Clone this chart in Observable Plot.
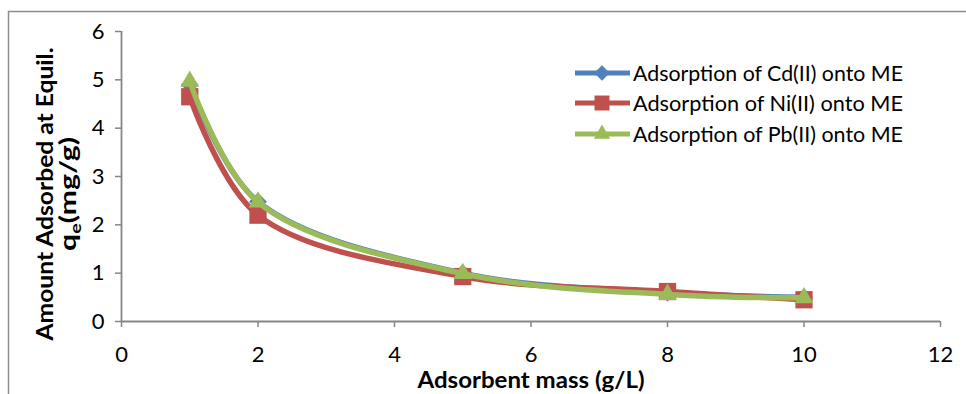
<!DOCTYPE html>
<html><head><meta charset="utf-8">
<script src="https://cdn.jsdelivr.net/npm/d3@7"></script>
<script src="https://cdn.jsdelivr.net/npm/@observablehq/plot@0.6"></script>
<style>
body{margin:0;background:#fff;}
#wrap{position:relative;width:966px;height:394px;overflow:hidden;background:#fff;}
#overlay{position:absolute;left:0;top:0;pointer-events:none;}
#wrap svg g[aria-label="x-axis tick"], #wrap svg g[aria-label="y-axis tick"]{stroke:#868686;stroke-width:1.5px;}
</style></head><body><div id="wrap"></div>
<script>
const masses = [1, 2, 5, 8, 10];
const cdValues = [4.9, 2.48, 1.0, 0.6, 0.5];
const niValues = [4.65, 2.2, 0.93, 0.62, 0.45];
const pbValues = [4.97, 2.47, 0.99, 0.56, 0.49];
const seriesNames = ["Adsorption of Cd(II) onto ME", "Adsorption of Ni(II) onto ME", "Adsorption of Pb(II) onto ME"];
const seriesColors = ["#4F81BD", "#C0504D", "#9BBB59"];
const seriesSymbols = ["diamond2", "square2", "triangle2"];
const seriesR = [8, 11, 9];
const xTicks = [0, 2, 4, 6, 8, 10, 12];
const yTicks = [0, 1, 2, 3, 4, 5, 6];
const xTitle = "Adsorbent mass (g/L)";
const yTitle1 = "Amount Adsorbed at Equil.";
const yTitle2 = ["q", "e", "(mg/g)"];

const allValues = [cdValues, niValues, pbValues];
const data = [];
allValues.forEach((vals, si) => vals.forEach((v, i) => data.push({mass: masses[i], q: v, series: seriesNames[si]})));

const seriesMarks = [];
seriesNames.forEach((name, si) => {
  const rows = data.filter(d => d.series === name);
  seriesMarks.push(Plot.line(rows, {x: "mass", y: "q", stroke: seriesColors[si], strokeWidth: 5.5, curve: "catmull-rom"}));
  seriesMarks.push(Plot.dot(rows, {x: "mass", y: "q", fill: seriesColors[si], symbol: seriesSymbols[si], r: seriesR[si], stroke: "none"}));
});

const W = 966, H = 394;
const chart = Plot.plot({
  width: W, height: H,
  marginLeft: 121, marginRight: 26, marginTop: 31, marginBottom: 73,
  style: {fontFamily: "Lato, 'Open Sans', sans-serif", fontSize: "22px", color: "#000", background: "#fff"},
  x: {domain: [0, 12], ticks: xTicks, tickSize: 6, tickPadding: 19, tickFormat: d3.format("d"), label: null},
  y: {domain: [0, 6], ticks: yTicks, tickSize: 6, tickPadding: 11, tickFormat: d3.format("d"), label: null},
  marks: [
    Plot.ruleY([0], {stroke: "#868686", strokeWidth: 1.8}),
    Plot.ruleX([0], {stroke: "#868686", strokeWidth: 1.8}),
    ...seriesMarks
  ]
});
const wrap = document.getElementById("wrap");
wrap.appendChild(chart);

// overlay: frame, legend, titles
const ov = d3.select(wrap).append("svg").attr("id", "overlay").attr("width", W).attr("height", H);
ov.append("path").attr("d", `M8.5,${H}V11.5H${W}`).attr("fill", "none").attr("stroke", "#8c8c8c").attr("stroke-width", 1.5);

const legY = [73, 103, 134];
seriesNames.forEach((name, i) => {
  const g = ov.append("g").attr("transform", `translate(0,${legY[i]})`);
  g.append("line").attr("x1", 575).attr("x2", 630).attr("y1", 0).attr("y2", 0)
    .attr("stroke", seriesColors[i]).attr("stroke-width", 5);
  const sym = {diamond2: d3.symbolDiamond2, square2: d3.symbolSquare2, triangle2: d3.symbolTriangle2}[seriesSymbols[i]];
  g.append("path").attr("transform", "translate(602,0)")
    .attr("d", d3.symbol(sym, Math.PI * seriesR[i] * seriesR[i] * 0.75)()).attr("fill", seriesColors[i]);
  g.append("text").attr("x", 633).attr("y", 8).attr("font-family", "Lato, sans-serif").attr("font-size", 22)
    .attr("textLength", 270).attr("lengthAdjust", "spacingAndGlyphs").attr("fill", "#000").text(name);
});

ov.append("text").attr("x", 531).attr("y", 388).attr("text-anchor", "middle")
  .attr("font-family", "Lato, sans-serif").attr("font-weight", "bold").attr("font-size", 22)
  .attr("textLength", 227).attr("lengthAdjust", "spacingAndGlyphs").text(xTitle);

const yt = ov.append("g").attr("transform", "translate(53,194) rotate(-90)");
yt.append("text").attr("x", 0).attr("y", 0).attr("text-anchor", "middle")
  .attr("font-family", "Lato, sans-serif").attr("font-weight", "bold").attr("font-size", 23)
  .attr("textLength", 293).attr("lengthAdjust", "spacingAndGlyphs").text(yTitle1);
const t2 = yt.append("text").attr("x", 0).attr("y", 23).attr("text-anchor", "middle")
  .attr("font-family", "Lato, sans-serif").attr("font-weight", "bold").attr("font-size", 23)
  .attr("textLength", 114).attr("lengthAdjust", "spacingAndGlyphs");
t2.append("tspan").text(yTitle2[0]);
t2.append("tspan").attr("font-size", 15).attr("dy", 5).text(yTitle2[1]);
t2.append("tspan").attr("dy", -5).text(yTitle2[2]);
</script></body></html>
